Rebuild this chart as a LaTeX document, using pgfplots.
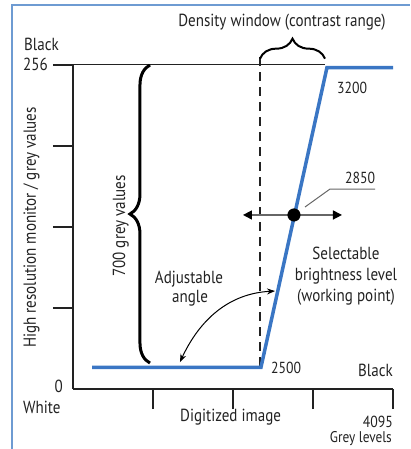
\documentclass[border=0pt]{standalone}
\usepackage{fontspec}
\setmainfont{PT Sans}[FakeStretch=0.86]
\usepackage{pgfplots}
\pgfplotsset{compat=1.18}
\usetikzlibrary{decorations.pathreplacing,arrows.meta}
\definecolor{lineblue}{RGB}{58,118,196}
\definecolor{frameblue}{RGB}{110,155,210}
\definecolor{txt}{RGB}{34,34,34}
\newcommand{\mf}{\fontsize{17.5}{20}\selectfont}
\newcommand{\nf}{\fontsize{16}{19}\selectfont}
\newcommand{\gf}{\fontsize{15.5}{18}\selectfont}

\begin{document}
\begin{tikzpicture}[x=1pt,y=1pt]
\useasboundingbox (-73,-60) rectangle (337,389);
\draw[frameblue, line width=2pt] (-61,-60) -- (-61,384) -- (337,384);

\begin{axis}[
    at={(0,0)}, anchor=south west,
    width=320pt, height=324pt, scale only axis,
    xmin=0, xmax=4095, ymin=0, ymax=256,
    axis x line=bottom, axis y line=left,
    axis line style={-, line width=1.6pt, txt},
    xtick={1024,2048,3072,4095}, ytick={64,128,192,256},
    xticklabels={}, yticklabels={},
    tick align=outside, major tick length=20pt,
    tick style={line width=1.6pt, txt},
    clip=false
]
% top grey level line and window marker
\draw[txt, line width=1pt] (axis cs:0,256) -- (axis cs:3225,256);
\draw[txt, line width=2.3pt, dash pattern=on 9pt off 6pt] (axis cs:2393,262) -- (axis cs:2393,17);

% transfer curve
\addplot[lineblue, line width=3.5pt] coordinates {
    (245,17) (2405,17) (3250,254) (4095,254)
};

% braces
\draw[decorate, decoration={brace, amplitude=20pt}, line width=2pt]
    (axis cs:2393,261) -- (axis cs:3225,261);
\draw[decorate, decoration={brace, amplitude=20pt}, line width=3pt]
    (axis cs:985,20.5) -- (axis cs:985,256);

% working point
\draw[{Triangle[length=9pt,width=9pt,color=black]}-{Triangle[length=9pt,width=9pt,color=black]},
    line width=1.5pt, black!60] (axis cs:2175,137.5) -- (axis cs:3442,137.5);
\draw[black!60, line width=1pt] (axis cs:2969,143.8) -- (axis cs:3289,158) -- (axis cs:3865,158);
\addplot[only marks, mark=*, mark size=6.3pt, black] coordinates {(2828,137.5)};

% adjustable angle arrow
\draw[{Stealth[length=8pt]}-{Stealth[length=8pt]}, line width=1pt, black]
    (axis cs:1369,21.3) to[out=65, in=183] (axis cs:2585,77.4);
\end{axis}

\begin{scope}[every node/.style={text=txt, inner sep=0pt}]
\node[font=\mf, anchor=base] at (209,362) {Density window (contrast range)};
\node[font=\mf, anchor=base west] at (-49,338.3) {Black};
\node[font=\mf, anchor=base east] at (-25,318.3) {256};
\node[font=\mf, anchor=base east] at (-10,-4) {0};
\node[font=\mf, anchor=base west] at (-50,-24) {White};
\node[font=\mf, anchor=base west] at (107,-32.7) {Digitized image};
\node[font=\nf, anchor=base east] at (320,-38) {4095};
\node[font=\gf, anchor=base east] at (319,-53) {Grey levels};
\node[font=\mf, anchor=base east] at (320,12) {Black};
\node[font=\nf, anchor=base west] at (198,15) {2500};
\node[font=\nf, anchor=base west] at (264,295.7) {3200};
\node[font=\nf, anchor=base west] at (272,205.7) {2850};
\node[font=\mf, anchor=base] at (273,129) {Selectable};
\node[font=\mf, anchor=base] at (273,108.3) {brightness level};
\node[font=\mf, anchor=base] at (273,87) {(working point)};
\node[font=\mf, anchor=base] at (116,105.7) {Adjustable};
\node[font=\mf, anchor=base] at (117,86) {angle};
\node[font=\mf, anchor=base, rotate=90] at (52,163) {700 grey values};
\node[font=\mf, anchor=base, rotate=90] at (-37,161.5) {High resolution monitor / grey values};
\end{scope}
\end{tikzpicture}
\end{document}
